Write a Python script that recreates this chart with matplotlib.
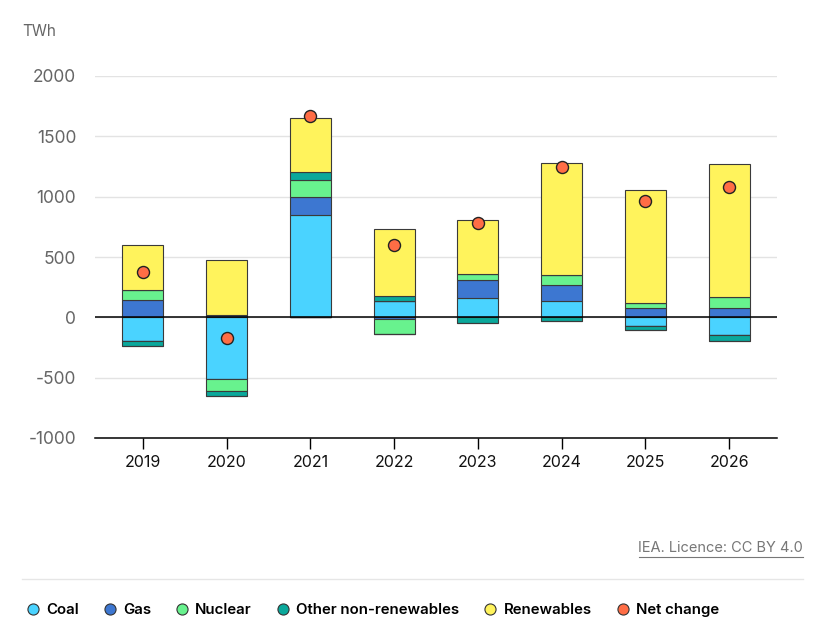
import matplotlib.pyplot as plt
import numpy as np

plt.rcParams['font.family'] = ['Inter', 'DejaVu Sans']
plt.rcParams['axes.unicode_minus'] = False

years = ['2019', '2020', '2021', '2022', '2023', '2024', '2025', '2026']
coal = [-199, -509, 852, 135, 164, 133, -72, -144]
gas = [147, 19, 145, -10, 149, 135, 80, 80]
nuclear = [80, -105, 139, -127, 50, 83, 41, 85]
other = [-42, -39, 69, 39, -44, -31, -30, -53]
renewables = [373, 456, 448, 554, 445, 925, 935, 1105]
net_change = [376, -172, 1668, 603, 778, 1247, 963, 1081]

series = [
    ('Coal', coal, '#4ad3ff'),
    ('Gas', gas, '#3d77d1'),
    ('Nuclear', nuclear, '#68f28e'),
    ('Other non-renewables', other, '#0aa89b'),
    ('Renewables', renewables, '#fff35c'),
]
net_color = '#ff6d45'

fig = plt.figure(figsize=(8.21, 6.3), dpi=100)
ax = fig.add_axes([95 / 821, 1 - 438 / 630, (777 - 95) / 821, (438 - 76) / 630])

x = np.arange(len(years))
pos_base = np.zeros(len(years))
neg_base = np.zeros(len(years))
for name, vals, col in series:
    vals = np.array(vals, dtype=float)
    pos = np.where(vals > 0, vals, 0)
    neg = np.where(vals < 0, vals, 0)
    ax.bar(x, pos, 0.49, bottom=pos_base, color=col, edgecolor='#3a3a3a',
           linewidth=0.8, zorder=3)
    ax.bar(x, neg, 0.49, bottom=neg_base, color=col, edgecolor='#3a3a3a',
           linewidth=0.8, zorder=3)
    pos_base += pos
    neg_base += neg

ax.scatter(x, net_change, s=75, color=net_color, edgecolor='#222222',
           linewidth=1, zorder=5)

ax.set_xlim(-0.57, 7.57)
ax.set_ylim(-1000, 2000)
ax.set_yticks([-1000, -500, 0, 500, 1000, 1500, 2000])
ax.set_xticks(x)
ax.set_xticklabels(years)
ax.grid(axis='y', color='#e3e3e3', linewidth=1, zorder=0)
ax.axhline(0, color='black', linewidth=1.1, zorder=4)
for s in ['top', 'right', 'left']:
    ax.spines[s].set_visible(False)
ax.spines['bottom'].set_color('black')
ax.spines['bottom'].set_linewidth(1.1)
ax.tick_params(axis='y', length=0, pad=13.5, labelsize=12.5, labelcolor='#666666')
ax.tick_params(axis='x', length=8, width=1, color='black', pad=4,
               labelsize=11.5, labelcolor='#111111')

fig.text(22 / 821, 1 - 31 / 630, 'TWh', fontsize=11, color='#666666', va='center')

t = fig.text(803 / 821, 1 - 548 / 630, 'IEA. Licence: CC BY 4.0', fontsize=10.5,
             color='#777777', ha='right', va='center')
fig.add_artist(plt.Line2D([639 / 821, 803 / 821], [1 - 557 / 630, 1 - 557 / 630],
                          color='#777777', linewidth=0.8))
fig.add_artist(plt.Line2D([22 / 821, 803 / 821], [1 - 579 / 630, 1 - 579 / 630],
                          color='#e6e6e6', linewidth=1))

handles = [plt.Line2D([], [], marker='o', linestyle='', markersize=8,
                      markerfacecolor=c, markeredgecolor='#333333', markeredgewidth=0.8)
           for _, _, c in series]
handles.append(plt.Line2D([], [], marker='o', linestyle='', markersize=8,
                          markerfacecolor=net_color, markeredgecolor='#333333',
                          markeredgewidth=0.8))
labels = [n for n, _, _ in series] + ['Net change']
leg = fig.legend(handles, labels, loc='center left',
                 bbox_to_anchor=(10 / 821, 1 - 610 / 630), ncol=6, frameon=False,
                 handletextpad=0.3, columnspacing=1.45, handlelength=1.2,
                 prop={'size': 10.8, 'weight': 'semibold'})

fig.savefig('out.png', dpi=100)
